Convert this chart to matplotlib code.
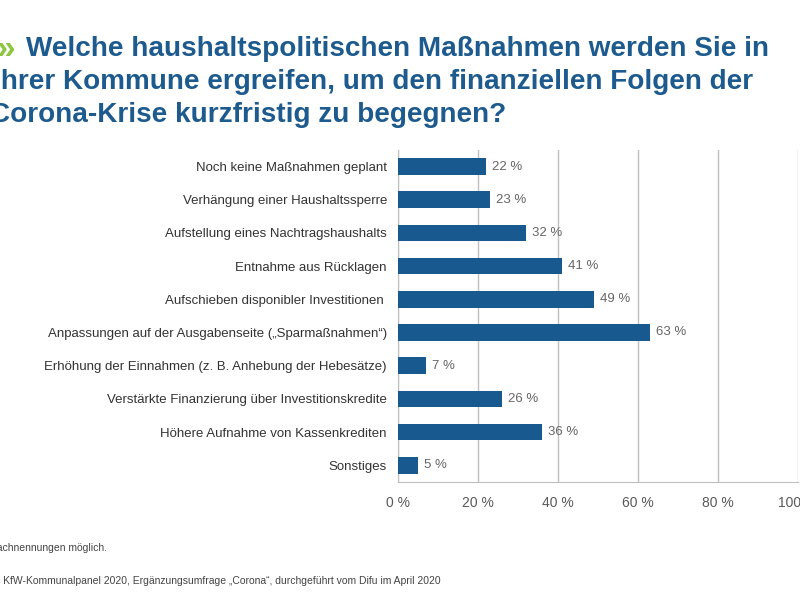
import matplotlib
matplotlib.use("Agg")
import matplotlib.pyplot as plt

categories = ["Noch keine Maßnahmen geplant", "Verhängung einer Haushaltssperre",
              "Aufstellung eines Nachtragshaushalts", "Entnahme aus Rücklagen",
              "Aufschieben disponibler Investitionen ",
              "Anpassungen auf der Ausgabenseite (\u201eSparmaßnahmen\u201c)",
              "Erhöhung der Einnahmen (z. B. Anhebung der Hebesätze)",
              "Verstärkte Finanzierung über Investitionskredite",
              "Höhere Aufnahme von Kassenkrediten", "Sonstiges"]
values = [22, 23, 32, 41, 49, 63, 7, 26, 36, 5]
ticks = [0, 20, 40, 60, 80, 100]

plt.rcParams['font.family'] = ['Liberation Sans', 'DejaVu Sans']
fig = plt.figure(figsize=(8, 6), dpi=100)
ax = fig.add_axes([0.4975, 0.197, 0.5, 0.553])
y = list(range(len(categories)))
ax.barh(y, values, height=0.5, color="#18598f", zorder=3)
for yi, v in zip(y, values):
    ax.text(v + 1.5, yi, f"{v} %", va="center", ha="left", fontsize=9.5, color="#666666")
ax.set_yticks(y)
ax.set_yticklabels(categories, fontsize=9.5, color="#333333")
ax.set_ylim(len(categories) - 0.5, -0.5)
ax.set_xlim(0, 100)
ax.set_xticks(ticks)
ax.set_xticklabels([f"{t} %" for t in ticks], fontsize=10, color="#595959")
ax.tick_params(length=0, pad=10)
ax.tick_params(axis='y', pad=8)
ax.grid(axis='x', color="#bfbfbf", lw=1, zorder=0)
for s in ["top", "right"]:
    ax.spines[s].set_visible(False)
ax.spines["left"].set_color("#bfbfbf")
ax.spines["bottom"].set_color("#bfbfbf")

tc = "#1d5a8e"
fig.text(-0.004, 0.918, "»", fontsize=24, fontweight="bold", color="#8dc63f", va="center")
fig.text(0.033, 0.918, "Welche haushaltspolitischen Maßnahmen werden Sie in",
         fontsize=20.1, fontweight="bold", color=tc, va="center")
fig.text(-0.009, 0.863, "Ihrer Kommune ergreifen, um den finanziellen Folgen der",
         fontsize=20.1, fontweight="bold", color=tc, va="center")
fig.text(-0.013, 0.808, "Corona-Krise kurzfristig zu begegnen?",
         fontsize=20.1, fontweight="bold", color=tc, va="center")
fig.text(-0.037, 0.087, "Mehrfachnennungen möglich.", fontsize=7.5, color="#444444", va="center")
fig.text(-0.041, 0.032, "Quelle: KfW-Kommunalpanel 2020, Ergänzungsumfrage \u201eCorona\u201c, durchgeführt vom Difu im April 2020",
         fontsize=7.5, color="#444444", va="center")
fig.savefig("out.png", dpi=100)
